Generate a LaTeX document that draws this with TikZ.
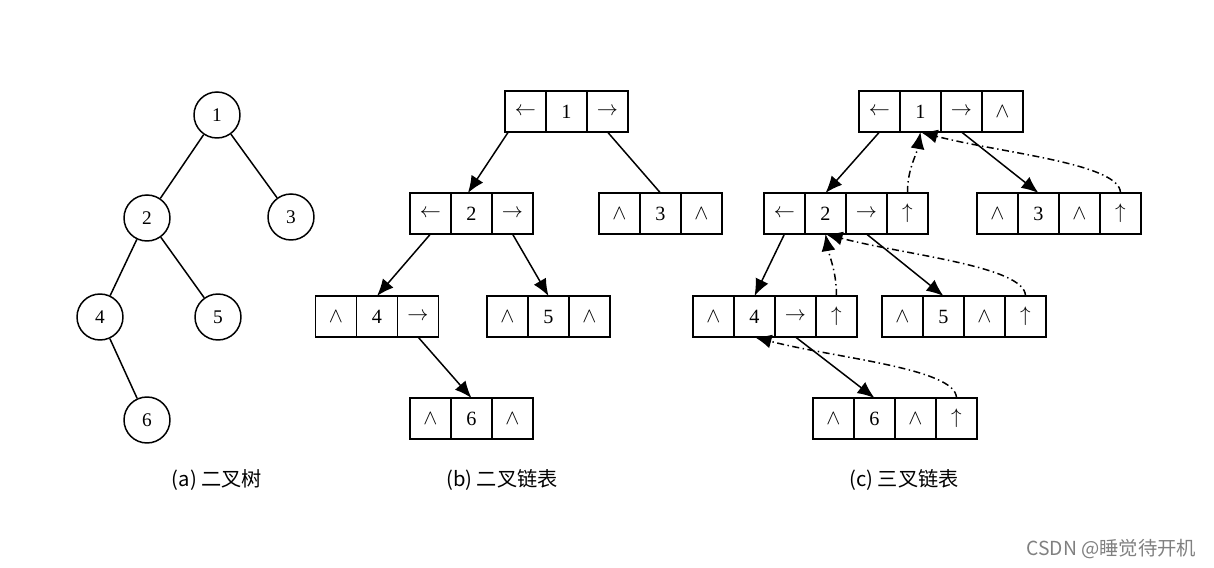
\documentclass[tikz,border=0pt]{standalone}
\usepackage{fontspec}
\setmainfont{Liberation Serif}
\newfontfamily\cjk{Noto Sans CJK SC}
\usetikzlibrary{positioning,arrows.meta}

\begin{document}
\begin{tikzpicture}[x=0.02cm,y=0.02cm,>={Latex[length=3.4mm,width=2.8mm]},line width=0.85pt]
			\useasboundingbox (0,0) rectangle (1214,568);
			\tikzstyle{tnode}=[draw,circle,minimum size=0.92cm,inner sep=0pt,font=\fontsize{11}{13}\selectfont]
			\tikzstyle{cell}=[draw,rectangle,minimum size=0.82cm,inner sep=0pt,outer sep=0pt,font=\fontsize{11.5}{13}\selectfont]
			\tikzstyle{parent}=[->,dash pattern=on 4pt off 2pt on 0.8pt off 2pt]
			\tikzstyle{caption}=[font=\cjk\fontsize{11.5}{13}\selectfont]

			%% (a) tree
			\draw (217,453) node [tnode] (t1) {1};
			\draw (147,350) node [tnode] (t2) {2};
			\draw (291,351) node [tnode] (t3) {3};
			\draw (100,251) node [tnode] (t4) {4};
			\draw (218,251) node [tnode] (t5) {5};
			\draw (147,148) node [tnode] (t6) {6};
			\path (t1) edge (t2);
			\path (t1) edge (t3);
			\path (t2) edge (t4);
			\path (t2) edge (t5);
			\path (t4) edge (t6);

			%% (b) two links
			\draw (566.5,456.5) node [cell] (b1d) {1};
			\node [cell,left=0pt of b1d] (b1l) {$\leftarrow$};
			\node [cell,right=0pt of b1d] (b1r) {$\rightarrow$};
			\draw (471.5,354.5) node [cell] (b2d) {2};
			\node [cell,left=0pt of b2d] (b2l) {$\leftarrow$};
			\node [cell,right=0pt of b2d] (b2r) {$\rightarrow$};
			\draw (660.5,354.5) node [cell] (b3d) {3};
			\node [cell,left=0pt of b3d] (b3l) {$\wedge$};
			\node [cell,right=0pt of b3d] (b3r) {$\wedge$};
			\draw (377,251.5) node [cell] (b4d) {4};
			\node [cell,left=0pt of b4d] (b4l) {$\wedge$};
			\node [cell,right=0pt of b4d] (b4r) {$\rightarrow$};
			\draw (548.5,251.5) node [cell] (b5d) {5};
			\node [cell,left=0pt of b5d] (b5l) {$\wedge$};
			\node [cell,right=0pt of b5d] (b5r) {$\wedge$};
			\draw (471.5,149.5) node [cell] (b6d) {6};
			\node [cell,left=0pt of b6d] (b6l) {$\wedge$};
			\node [cell,right=0pt of b6d] (b6r) {$\wedge$};

			\path [->] (b1l.230) edge (b2d.100);
			\path (b1r.south) edge (b3d.north);
			\path [->] (b2l.south) edge (b4d.north);
			\path [->] (b2r.south) edge (b5d.north);
			\path [->] (b4r.south) edge (b6d.north);

			%% (c) three links
			\draw (920.5,456.5) node [cell] (c1d) {1};
			\node [cell,left=0pt of c1d] (c1l) {$\leftarrow$};
			\node [cell,right=0pt of c1d] (c1r) {$\rightarrow$};
			\node [cell,right=0pt of c1r] (c1p) {$\wedge$};
			\draw (825.5,354.5) node [cell] (c2d) {2};
			\node [cell,left=0pt of c2d] (c2l) {$\leftarrow$};
			\node [cell,right=0pt of c2d] (c2r) {$\rightarrow$};
			\node [cell,right=0pt of c2r] (c2p) {$\uparrow$};
			\draw (1038.5,354.5) node [cell] (c3d) {3};
			\node [cell,left=0pt of c3d] (c3l) {$\wedge$};
			\node [cell,right=0pt of c3d] (c3r) {$\wedge$};
			\node [cell,right=0pt of c3r] (c3p) {$\uparrow$};
			\draw (754.5,251.5) node [cell] (c4d) {4};
			\node [cell,left=0pt of c4d] (c4l) {$\wedge$};
			\node [cell,right=0pt of c4d] (c4r) {$\rightarrow$};
			\node [cell,right=0pt of c4r] (c4p) {$\uparrow$};
			\draw (943.5,251.5) node [cell] (c5d) {5};
			\node [cell,left=0pt of c5d] (c5l) {$\wedge$};
			\node [cell,right=0pt of c5d] (c5r) {$\wedge$};
			\node [cell,right=0pt of c5r] (c5p) {$\uparrow$};
			\draw (874.5,149.5) node [cell] (c6d) {6};
			\node [cell,left=0pt of c6d] (c6l) {$\wedge$};
			\node [cell,right=0pt of c6d] (c6r) {$\wedge$};
			\node [cell,right=0pt of c6r] (c6p) {$\uparrow$};

			\path [->] (c1l.south) edge (c2d.north);
			\path [->] (c1r.south) edge (c3d.north);
			\path [->] (c2l.south) edge (c4d.north);
			\path [->] (c2r.south) edge (c5d.north);
			\path [->] (c4r.south) edge (c6d.north);

			%% parent pointers
			\path [parent] (c2p.north) edge [out=90,in=-100] (c1d.south);
			\path [parent] (c3p.north) edge [out=90,in=-15,out distance=0.6cm,in distance=1.6cm] (c1d.south);
			\path [parent] (c4p.north) edge [out=90,in=-80] (c2d.south);
			\path [parent] (c5p.north) edge [out=90,in=-15,out distance=0.6cm,in distance=1.6cm] (c2d.south);
			\path [parent] (c6p.north) edge [out=90,in=-15,out distance=0.6cm,in distance=1.6cm] (c4d.south);

			%% captions
			\node [caption] (capa) at (217,88) {(a) 二叉树};
			\node [caption] (capb) at (502,88) {(b) 二叉链表};
			\node [caption] (capc) at (904,88) {(c) 三叉链表};
			\node [font=\cjk\fontsize{11}{13}\selectfont,text=gray,anchor=east,inner sep=0pt] (mark) at (1197,19) {CSDN @睡觉待开机};
		\end{tikzpicture}
\end{document}
